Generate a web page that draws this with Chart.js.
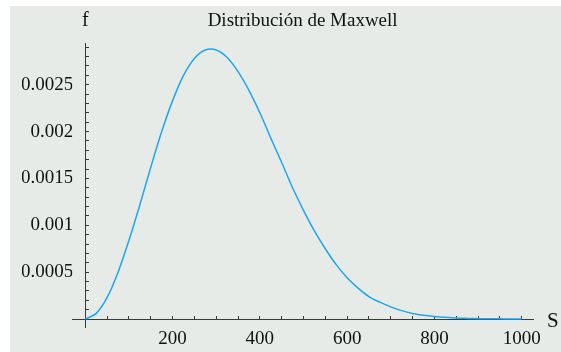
<!DOCTYPE html>
<html>
<head>
<meta charset="utf-8">
<script src="https://cdn.jsdelivr.net/npm/chart.js@4"></script>
<style>
html, body { margin: 0; padding: 0; background: #fff; }
#wrap { position: absolute; left: 10px; top: 6px; width: 551px; height: 346px; background: #e6ebe7; }
</style>
</head>
<body>
<div id="wrap"><canvas id="maxwell" width="551" height="346"></canvas></div>
<script>
// velocidad S y densidad f
var speeds = [0, 25, 50, 75, 100, 125, 150, 175, 200, 225, 250, 275, 300, 325, 350, 375, 400, 425, 450, 475,
    500, 525, 550, 575, 600, 625, 650, 675, 700, 725, 750, 775, 800, 825, 850, 875, 900, 925, 950, 975, 1000];
var density = [0, 0.00006, 0.00023, 0.0005, 0.00084, 0.00122, 0.00162, 0.002, 0.00233, 0.0026, 0.00278, 0.00287,
    0.00287, 0.00279, 0.00264, 0.00244, 0.0022, 0.00193, 0.00167, 0.0014, 0.00116, 0.00094, 0.00075, 0.00058,
    0.00044, 0.00033, 0.00024, 0.00018, 0.00013, 0.00009, 0.00006, 0.00004, 0.000027, 0.000018, 0.000011,
    0.000007, 0.000004, 0.000003, 0.000002, 0.000001, 0.000001];

var xTickValues = [200, 400, 600, 800, 1000];
var xTickLabels = ['200', '400', '600', '800', '1000'];
var yTickValues = [0.0005, 0.001, 0.0015, 0.002, 0.0025];
var yTickLabels = ['0.0005', '0.001', '0.0015', '0.002', '0.0025'];

var axisColor = '#3a3a3a';
var serif = 'Liberation Serif';

function labelFor(values, labels, v) {
    for (var i = 0; i < values.length; i++) {
        if (Math.abs(values[i] - v) < 1e-9) return labels[i];
    }
    return '';
}

// marcas menores: cada 50 en S, cada 0.0001 en f
var xMinor = [];
for (var i = 1; i <= 20; i++) xMinor.push(i * 50);
var yMinor = [];
for (var j = 1; j <= 29; j++) yMinor.push(j / 10000);

var axisNames = {
    id: 'axisNames',
    afterDraw: function (chart) {
        var ctx = chart.ctx;
        var x = chart.scales.x, y = chart.scales.y;
        ctx.save();
        ctx.fillStyle = '#111';
        ctx.textBaseline = 'alphabetic';
        ctx.font = '20px "' + serif + '"';
        ctx.textAlign = 'center';
        ctx.fillText('f', x.getPixelForValue(0), 20);
        ctx.font = '21px "' + serif + '"';
        ctx.textAlign = 'left';
        ctx.fillText('S', chart.chartArea.right + 14, y.getPixelForValue(0) + 8);
        ctx.restore();
    }
};

new Chart(document.getElementById('maxwell'), {
    type: 'line',
    data: {
        datasets: [{
            data: speeds.map(function (s, k) { return { x: s, y: density[k] }; }),
            borderColor: '#1ea6f2',
            borderWidth: 1.5,
            pointRadius: 0,
            tension: 0.3,
            fill: false,
            yAxisID: 'y'
        }]
    },
    options: {
        responsive: false,
        animation: false,
        layout: { padding: { left: 12, right: 28, top: 4, bottom: 25 } },
        plugins: {
            legend: { display: false },
            tooltip: { enabled: false },
            title: {
                display: true,
                text: 'Distribución de Maxwell',
                fullSize: false,
                color: '#111',
                font: { family: serif, size: 19, weight: 'normal' },
                padding: { top: 0, bottom: 11 }
            }
        },
        scales: {
            x: {
                type: 'linear',
                min: -30,
                max: 1026,
                position: { y: 0 },
                afterBuildTicks: function (scale) {
                    scale.ticks = xMinor.map(function (v) { return { value: v }; });
                },
                grid: { display: true, drawOnChartArea: false, drawTicks: true, tickLength: -4, color: axisColor, lineWidth: 1 },
                border: { display: true, color: axisColor, width: 1 },
                ticks: {
                    autoSkip: false,
                    maxRotation: 0,
                    padding: 13,
                    color: '#111',
                    font: { family: serif, size: 19 },
                    callback: function (v) { return labelFor(xTickValues, xTickLabels, v); }
                }
            },
            y: {
                type: 'linear',
                min: -0.000085,
                max: 0.002936,
                position: 'left',
                afterBuildTicks: function (scale) {
                    scale.ticks = yTickValues.map(function (v) { return { value: v }; });
                },
                grid: { display: false, drawTicks: false },
                border: { display: false },
                ticks: {
                    autoSkip: false,
                    padding: -1,
                    color: '#111',
                    font: { family: serif, size: 19 },
                    callback: function (v) { return labelFor(yTickValues, yTickLabels, v); }
                }
            },
            yAxis: {
                type: 'linear',
                min: -0.000085,
                max: 0.002936,
                position: { x: 0 },
                afterBuildTicks: function (scale) {
                    scale.ticks = yMinor.map(function (v) { return { value: v }; });
                },
                grid: { display: true, drawOnChartArea: false, drawTicks: true, tickLength: -4, color: axisColor, lineWidth: 1 },
                border: { display: true, color: axisColor, width: 1 },
                ticks: { display: false }
            }
        }
    },
    plugins: [axisNames]
});
</script>
</body>
</html>
